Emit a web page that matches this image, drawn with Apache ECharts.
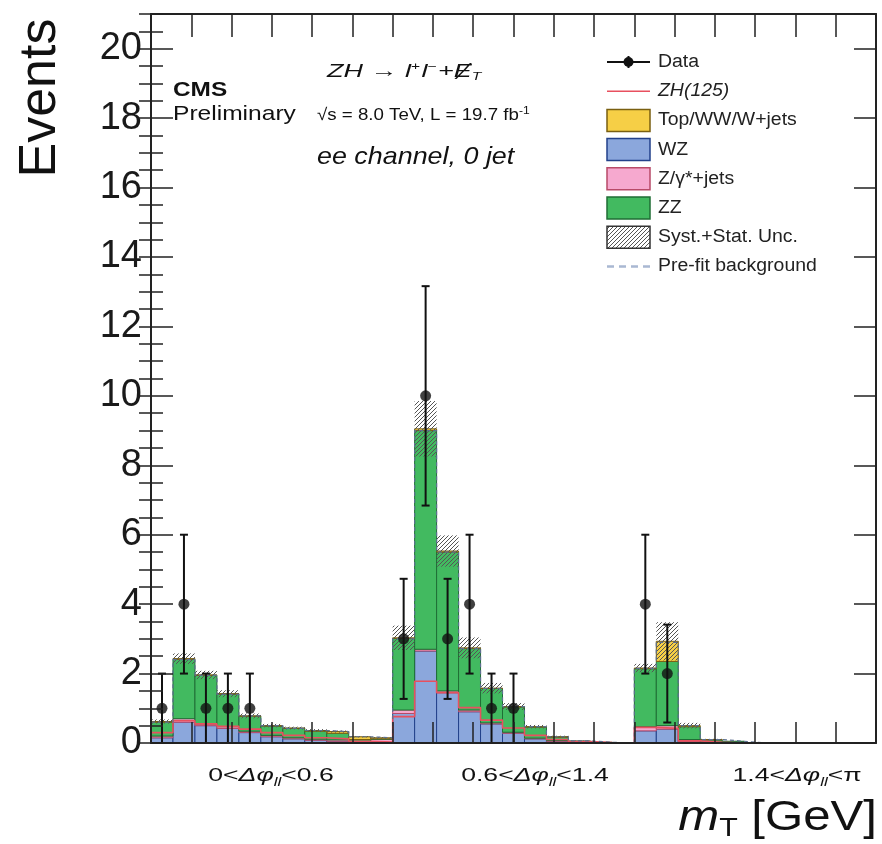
<!DOCTYPE html>
<html>
<head>
    <meta charset="UTF-8">
    <title>ZH ee 0 jet mT</title>
    <script src="https://cdn.jsdelivr.net/npm/echarts@6/dist/echarts.min.js"></script>
    <style>
        html, body { margin: 0; padding: 0; background: #fff; }
        #main { width: 882px; height: 844px; }
    </style>
</head>
<body>
    <div id="main"></div>
    <script type="text/javascript">
        // 33 bins = 3 regions of dphi(ll), 11 mT bins each
        var nBins = 33;
        var wz     = [0.15,0.60,0.50,0.42,0.30,0.18,0.12,0.08,0.05,0.01,0.01,
                      0.85,2.65,1.45,0.90,0.55,0.28,0.12,0.05,0.02,0.01,0,
                      0.35,0.40,0.04,0.01,0.01,0,0,0,0,0,0];
        var zgam   = [0.05,0.10,0.05,0.05,0.04,0.04,0.03,0.03,0.04,0.04,0.10,
                      0.10,0.05,0.05,0.05,0.03,0.03,0.02,0.02,0.01,0,0,
                      0.12,0.10,0.06,0.02,0.01,0,0,0,0,0,0];
        var zz     = [0.40,1.71,1.40,0.94,0.43,0.27,0.27,0.23,0.19,0.05,0.01,
                      2.06,6.30,4.00,1.77,0.99,0.73,0.32,0.10,0.03,0.01,0,
                      1.67,1.85,0.37,0.06,0.03,0,0,0,0,0,0];
        var topww  = [0.02,0.02,0.01,0.01,0.01,0.01,0.01,0.02,0.05,0.08,0.03,
                      0.02,0.05,0.03,0.02,0.01,0.01,0.01,0.01,0,0,0,
                      0.02,0.58,0.03,0.01,0,0,0,0,0,0,0];
        var zh     = [0.30,0.64,0.55,0.48,0.40,0.30,0.22,0.15,0.12,0.05,0.03,
                      0.76,1.78,1.45,1.02,0.66,0.43,0.22,0.10,0.04,0.01,0,
                      0.45,0.42,0.06,0.02,0,0,0,0,0,0,0];
        var prefit = [0.60,2.40,1.95,1.40,0.78,0.50,0.42,0.36,0.33,0.18,0.15,
                      3.00,9.00,5.50,2.72,1.57,1.05,0.47,0.18,0.06,0.02,0,
                      2.15,2.90,0.50,0.10,0.05,0,0,0,0,0,0];
        var unc    = [0.06,0.15,0.12,0.10,0.07,0.05,0.04,0.04,0.03,0.02,0.02,
                      0.35,0.80,0.45,0.30,0.15,0.10,0.05,0.03,0.01,0,0,
                      0.12,0.55,0.08,0.02,0.01,0,0,0,0,0,0];
        var dataN   = [1,4,1,1,1,0,0,0,0,0,0,
                       3,10,3,4,1,1,0,0,0,0,0,
                       4,2,0,0,0,0,0,0,0,0,0];
        var dataErr = [1,2,1,1,1,0,0,0,0,0,0,
                       1.73,3.16,1.73,2,1,1,0,0,0,0,0,
                       2,1.41,0,0,0,0,0,0,0,0,0];

        var regionLabels = [['0', '<0.6'], ['0.6', '<1.4'], ['1.4', '<\u03c0']];
        var regionX = [271, 535, 797];
        var legendNames = ['Data', 'ZH(125)', 'Top/WW/W+jets', 'WZ', 'Z/\u03b3*+jets', 'ZZ',
                           'Syst.+Stat. Unc.', 'Pre-fit background'];

        var FONT = "'Liberation Sans', Arial, sans-serif";
        var col = {
            wz: '#8ba7dc', wzLine: '#22408a',
            zg: '#f6a9cf', zgLine: '#b84a68',
            zz: '#42ba60', zzLine: '#1f6e35',
            top: '#f6cf46', topLine: '#7a5f10',
            zh: '#e8505f', prefit: '#5d7090'
        };

        // hatch pattern for uncertainty band
        var hatch = document.createElement('canvas');
        hatch.width = 4; hatch.height = 4;
        var hc = hatch.getContext('2d');
        hc.strokeStyle = '#555'; hc.lineWidth = 1;
        hc.beginPath();
        hc.moveTo(0, 4); hc.lineTo(4, 0);
        hc.moveTo(-1, 1); hc.lineTo(1, -1);
        hc.moveTo(3, 5); hc.lineTo(5, 3);
        hc.stroke();
        var hatchFill = { image: hatch, repeat: 'repeat' };

        // build stacked [bin, low, high] tables
        var comps = [wz, zgam, zz, topww];
        var running = [];
        for (var i = 0; i < nBins; i++) running.push(0);
        var stacked = comps.map(function (c) {
            var rows = [];
            for (var i = 0; i < nBins; i++) {
                rows.push([i, running[i], running[i] + c[i]]);
                running[i] += c[i];
            }
            return rows;
        });
        var uncRows = [];
        for (var i = 0; i < nBins; i++) {
            uncRows.push([i, running[i] - unc[i], running[i] + unc[i]]);
        }
        function stepRows(arr) {
            var r = arr.map(function (v, i) { return [i, v]; });
            r.push([nBins, arr[nBins - 1]]);
            return r;
        }
        var dataPts = [], errRows = [];
        for (var i = 0; i < nBins; i++) {
            if (dataN[i] > 0) {
                dataPts.push([i + 0.5, dataN[i]]);
                errRows.push([i + 0.5, dataN[i], dataErr[i]]);
            }
        }

        function binRect(params, api) {
            var i = api.value(0), lo = api.value(1), hi = api.value(2);
            if (hi - lo <= 0) return null;
            var a = api.coord([i, lo]), b = api.coord([i + 1, hi]);
            return {
                type: 'rect',
                shape: { x: a[0], y: b[1], width: b[0] - a[0], height: a[1] - b[1] },
                style: api.style()
            };
        }
        function hatchRect(params, api) {
            var i = api.value(0), lo = api.value(1), hi = api.value(2);
            if (hi - lo <= 0) return null;
            var a = api.coord([i, Math.max(lo, 0)]), b = api.coord([i + 1, hi]);
            return {
                type: 'rect',
                shape: { x: a[0], y: b[1], width: b[0] - a[0], height: a[1] - b[1] },
                style: { fill: hatchFill, stroke: null }
            };
        }
        function errBar(params, api) {
            var x = api.value(0), n = api.value(1), e = api.value(2);
            var lo = api.coord([x, Math.max(n - e, 0)]), hi = api.coord([x, n + e]);
            var s = { stroke: '#111', lineWidth: 2 };
            return {
                type: 'group',
                children: [
                    { type: 'line', shape: { x1: lo[0], y1: lo[1], x2: hi[0], y2: hi[1] }, style: s },
                    { type: 'line', shape: { x1: hi[0] - 4, y1: hi[1], x2: hi[0] + 4, y2: hi[1] }, style: s },
                    { type: 'line', shape: { x1: lo[0] - 4, y1: lo[1], x2: lo[0] + 4, y2: lo[1] }, style: s }
                ]
            };
        }

        function stackSeries(name, idx, fill, line) {
            return {
                name: name, type: 'custom', renderItem: binRect,
                encode: { x: 0, y: 2 }, data: stacked[idx],
                itemStyle: { color: fill, borderColor: line, borderWidth: 1 },
                z: 2
            };
        }

        // hand-made legend
        function legendGraphics() {
            var g = [], x0 = 607, w = 43, tx = 658, y0 = 62, dy = 29.2;
            legendNames.forEach(function (name, k) {
                var y = y0 + k * dy;
                if (k === 0) {
                    g.push({ type: 'line', shape: { x1: x0, y1: y, x2: x0 + w, y2: y }, style: { stroke: '#111', lineWidth: 2 } });
                    g.push({ type: 'line', shape: { x1: x0 + w / 2, y1: y - 6, x2: x0 + w / 2, y2: y + 6 }, style: { stroke: '#111', lineWidth: 2 } });
                    g.push({ type: 'circle', shape: { cx: x0 + w / 2, cy: y, r: 5 }, style: { fill: '#111' } });
                } else if (k === 1) {
                    g.push({ type: 'line', shape: { x1: x0, y1: y, x2: x0 + w, y2: y }, style: { stroke: col.zh, lineWidth: 1.5 } });
                } else if (k === 7) {
                    g.push({ type: 'line', shape: { x1: x0, y1: y, x2: x0 + w, y2: y }, style: { stroke: '#a9b8d2', lineWidth: 2.5, lineDash: [7, 5] } });
                } else {
                    var f = [col.top, col.wz, col.zg, col.zz, hatchFill][k - 2];
                    var s = [col.topLine, col.wzLine, col.zgLine, col.zzLine, '#333'][k - 2];
                    g.push({ type: 'rect', shape: { x: x0, y: y - 11, width: w, height: 22 }, style: { fill: f, stroke: s, lineWidth: 1.5 } });
                }
                g.push({
                    type: 'text', x: tx, y: y, scaleX: 1.08,
                    style: {
                        text: name, fill: '#222', textAlign: 'left', textVerticalAlign: 'middle',
                        font: (k === 1 ? 'italic ' : '') + '18px ' + FONT
                    }
                });
            });
            return g;
        }

        function textGraphics() {
            var g = [];
            g.push({ type: 'text', x: 41, y: 98, rotation: Math.PI / 2,
                style: { text: 'Events', font: '52px ' + FONT, fill: '#111', textAlign: 'center', textVerticalAlign: 'middle' } });
            g.push({ type: 'text', x: 877, y: 818, scaleX: 1.17,
                style: {
                    text: '{i|m}{s|T} [GeV]', textAlign: 'right', textVerticalAlign: 'middle',
                    font: '42px ' + FONT, fill: '#111',
                    rich: {
                        i: { fontStyle: 'italic', fontSize: 42, fontFamily: FONT, fill: '#111' },
                        s: { fontSize: 26, fontFamily: FONT, fill: '#111', padding: [22, 0, 0, 0] }
                    }
                } });
            g.push({ type: 'text', x: 173, y: 90, scaleX: 1.22,
                style: { text: 'CMS', font: 'bold 20px ' + FONT, fill: '#111', textAlign: 'left', textVerticalAlign: 'middle' } });
            g.push({ type: 'text', x: 173, y: 114, scaleX: 1.17,
                style: { text: 'Preliminary', font: '21px ' + FONT, fill: '#111', textAlign: 'left', textVerticalAlign: 'middle' } });
            g.push({ type: 'text', x: 327, y: 72, scaleX: 1.42,
                style: {
                    text: '{i|ZH \u2192 l}{p|+}{i|l}{p|\u2212}{i|+\u0246}{b|T}', textAlign: 'left', textVerticalAlign: 'middle',
                    font: 'italic 19px ' + FONT, fill: '#111',
                    rich: {
                        i: { fontStyle: 'italic', fontSize: 19, fontFamily: FONT, fill: '#111' },
                        p: { fontSize: 11, fontFamily: FONT, fill: '#111', padding: [0, 1, 10, 0] },
                        b: { fontStyle: 'italic', fontSize: 11, fontFamily: FONT, fill: '#111', padding: [10, 0, 0, 0] }
                    }
                } });
            g.push({ type: 'text', x: 317, y: 115, scaleX: 1.1,
                style: {
                    text: '\u221as = 8.0 TeV, L = 19.7 fb{p|-1}', textAlign: 'left', textVerticalAlign: 'middle',
                    font: '17px ' + FONT, fill: '#111',
                    rich: { p: { fontSize: 11, fontFamily: FONT, fill: '#111', padding: [0, 0, 9, 0] } }
                } });
            g.push({ type: 'text', x: 317, y: 157, scaleX: 1.12,
                style: { text: 'ee channel, 0 jet', font: 'italic 24px ' + FONT, fill: '#111', textAlign: 'left', textVerticalAlign: 'middle' } });
            regionLabels.forEach(function (r, k) {
                g.push({ type: 'text', x: regionX[k], y: 776, scaleX: 1.4,
                    style: {
                        text: r[0] + '<{i|\u0394\u03c6}{s|ll}' + r[1], textAlign: 'center', textVerticalAlign: 'middle',
                        font: '19px ' + FONT, fill: '#111',
                        rich: {
                            i: { fontStyle: 'italic', fontSize: 19, fontFamily: FONT, fill: '#111' },
                            s: { fontStyle: 'italic', fontSize: 12, fontFamily: FONT, fill: '#111', padding: [14, 0, 0, 0] }
                        }
                    } });
            });
            return g;
        }

        var tickLine = { color: '#222', width: 1.5 };
        var myChart = echarts.init(document.getElementById('main'));
        var option = {
            animation: false,
            backgroundColor: '#fff',
            grid: { left: 151, right: 6, top: 14, bottom: 101, show: false },
            xAxis: [
                { type: 'value', min: 0, max: nBins, position: 'bottom',
                  axisLine: { show: false }, axisTick: { show: false }, axisLabel: { show: false }, splitLine: { show: false } },
                { type: 'value', min: 0, max: 18, interval: 1, position: 'bottom', z: 10,
                  axisLine: { show: true, onZero: false, lineStyle: { color: '#222', width: 2 } },
                  axisTick: { inside: true, length: 21, lineStyle: tickLine },
                  axisLabel: { show: false }, splitLine: { show: false } },
                { type: 'value', min: 0, max: 18, interval: 1, position: 'top', z: 10,
                  axisLine: { show: true, onZero: false, lineStyle: { color: '#222', width: 2 } },
                  axisTick: { inside: true, length: 23, lineStyle: tickLine },
                  axisLabel: { show: false }, splitLine: { show: false } }
            ],
            yAxis: [
                { type: 'value', min: 0, max: 21, interval: 2, position: 'left', z: 10,
                  axisLine: { show: true, onZero: false, lineStyle: { color: '#222', width: 2 } },
                  axisTick: { inside: true, length: 22, lineStyle: tickLine },
                  axisLabel: { fontSize: 38, fontFamily: FONT, color: '#1a1a1a', margin: 9, showMaxLabel: false },
                  splitLine: { show: false } },
                { type: 'value', min: 0, max: 21, interval: 0.5, position: 'left', z: 10,
                  axisLine: { show: false }, axisTick: { inside: true, length: 12, lineStyle: tickLine },
                  axisLabel: { show: false }, splitLine: { show: false } },
                { type: 'value', min: 0, max: 21, interval: 2, position: 'right', z: 10,
                  axisLine: { show: true, onZero: false, lineStyle: { color: '#222', width: 2 } },
                  axisTick: { inside: true, length: 22, lineStyle: tickLine },
                  axisLabel: { show: false }, splitLine: { show: false } },
                { type: 'value', min: 0, max: 21, interval: 0.5, position: 'right', z: 10,
                  axisLine: { show: false }, axisTick: { inside: true, length: 12, lineStyle: tickLine },
                  axisLabel: { show: false }, splitLine: { show: false } }
            ],
            series: [
                stackSeries('WZ', 0, col.wz, col.wzLine),
                stackSeries('Z/\u03b3*+jets', 1, col.zg, col.zgLine),
                stackSeries('ZZ', 2, col.zz, col.zzLine),
                stackSeries('Top/WW/W+jets', 3, col.top, col.topLine),
                { name: 'Syst.+Stat. Unc.', type: 'custom', renderItem: hatchRect,
                  encode: { x: 0, y: 2 }, data: uncRows, z: 3 },
                { name: 'ZH(125)', type: 'line', step: 'end', data: stepRows(zh), showSymbol: false,
                  lineStyle: { color: col.zh, width: 1.6 }, z: 4 },
                { name: 'Pre-fit background', type: 'line', step: 'end', data: stepRows(prefit), showSymbol: false,
                  lineStyle: { color: col.prefit, width: 1.2, type: [4, 3] }, z: 4 },
                { name: 'Data errors', type: 'custom', renderItem: errBar,
                  encode: { x: 0, y: 1 }, data: errRows, z: 5 },
                { name: 'Data', type: 'scatter', data: dataPts, symbol: 'circle', symbolSize: 11,
                  itemStyle: { color: '#111' }, z: 6 }
            ],
            graphic: legendGraphics().concat(textGraphics())
        };
        myChart.setOption(option);
    </script>
</body>
</html>
